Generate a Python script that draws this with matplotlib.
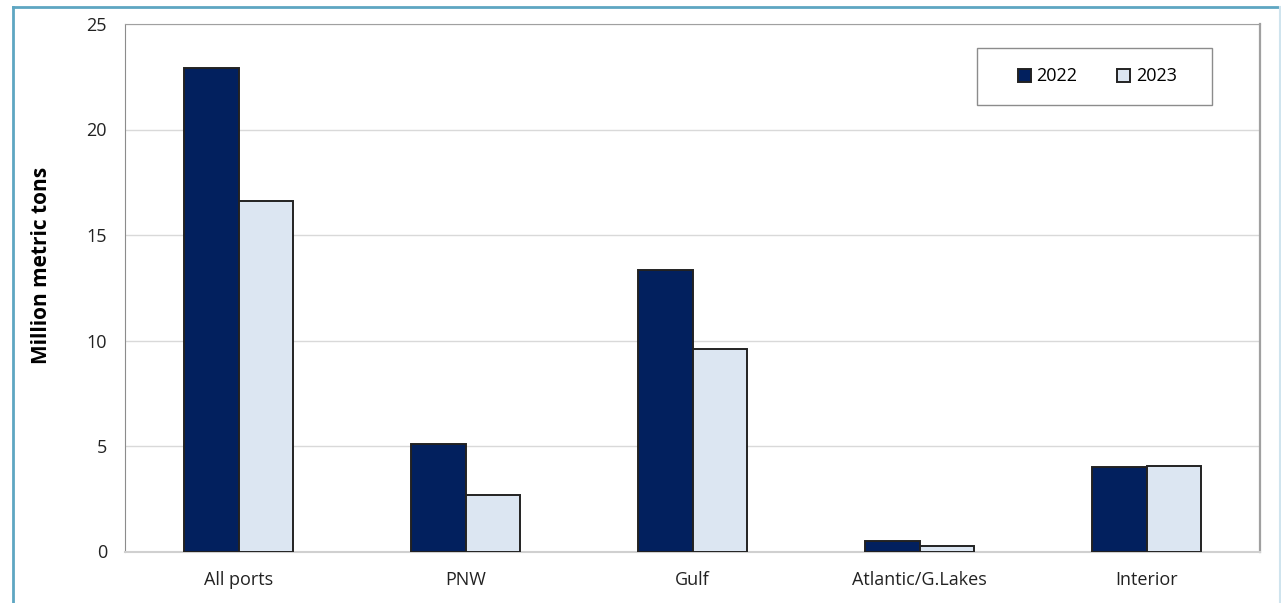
import matplotlib.pyplot as plt
import numpy as np
from matplotlib.lines import Line2D
from matplotlib.patches import Rectangle

plt.rcParams['font.family'] = ['Open Sans', 'DejaVu Sans']

ports = ["All ports", "PNW", "Gulf", "Atlantic/G.Lakes", "Interior"]
vals_2022 = [22.9, 5.08, 13.34, 0.51, 4.02]
vals_2023 = [16.6, 2.68, 9.61, 0.27, 4.07]

fig = plt.figure(figsize=(12.81, 6.03), dpi=100)
ax = fig.add_axes([125 / 1281, 1 - 551.5 / 603, 1135 / 1281, 527.5 / 603])

x = np.arange(len(ports))
w = 0.24
ax.bar(x - w / 2, vals_2022, w, color="#02205E", edgecolor="#222222", linewidth=1.4, label="2022", zorder=3)
ax.bar(x + w / 2, vals_2023, w, color="#DCE6F2", edgecolor="#222222", linewidth=1.4, label="2023", zorder=3)

ax.set_xlim(-0.5, len(ports) - 0.5)
ax.set_ylim(0, 25)
ax.set_yticks([0, 5, 10, 15, 20, 25])
ax.set_xticks(x)
ax.set_xticklabels(ports)
ax.tick_params(length=0, labelsize=13, colors="#222222", pad=13)
ax.tick_params(axis="x", pad=14)
ax.yaxis.grid(True, color="#D9D9D9", linewidth=1)
ax.set_axisbelow(True)

ax.spines["left"].set_color("#8C8C8C")
ax.spines["top"].set_color("#A0A0A0")
ax.spines["right"].set_color("#A0A0A0")
ax.spines["right"].set_linewidth(1.6)
ax.spines["bottom"].set_color("#D0D0D0")
ax.spines["bottom"].set_linewidth(1.5)

ax.set_ylabel("Million metric tons", fontsize=15, fontweight="bold")
ax.yaxis.set_label_coords(-0.064, 0.543)

# legend box drawn separately so its padding matches the original
ax.add_patch(Rectangle((0.7507, 0.8464), 0.2070, 0.1081, transform=ax.transAxes,
                       facecolor="white", edgecolor="#8C8C8C", linewidth=1, zorder=4))
leg = ax.legend(loc="center", bbox_to_anchor=(0.8568, 0.9005), ncol=2, fontsize=13,
                frameon=False, handlelength=0.72, handleheight=0.72, handletextpad=0.3,
                columnspacing=2.2, borderpad=0, borderaxespad=0)
leg.set_zorder(5)

# figure border
fig.add_artist(Line2D([12.5 / 1281, 12.5 / 1281], [0, 1 - 6.5 / 603], color="#5EA6C2", linewidth=2, transform=fig.transFigure))
fig.add_artist(Line2D([12.5 / 1281, 1], [1 - 6.5 / 603, 1 - 6.5 / 603], color="#5EA6C2", linewidth=2, transform=fig.transFigure))
fig.add_artist(Line2D([1279.5 / 1281, 1279.5 / 1281], [0, 1 - 6.5 / 603], color="#CFE4EE", linewidth=1.5, transform=fig.transFigure))

fig.savefig("out.png", dpi=100)
